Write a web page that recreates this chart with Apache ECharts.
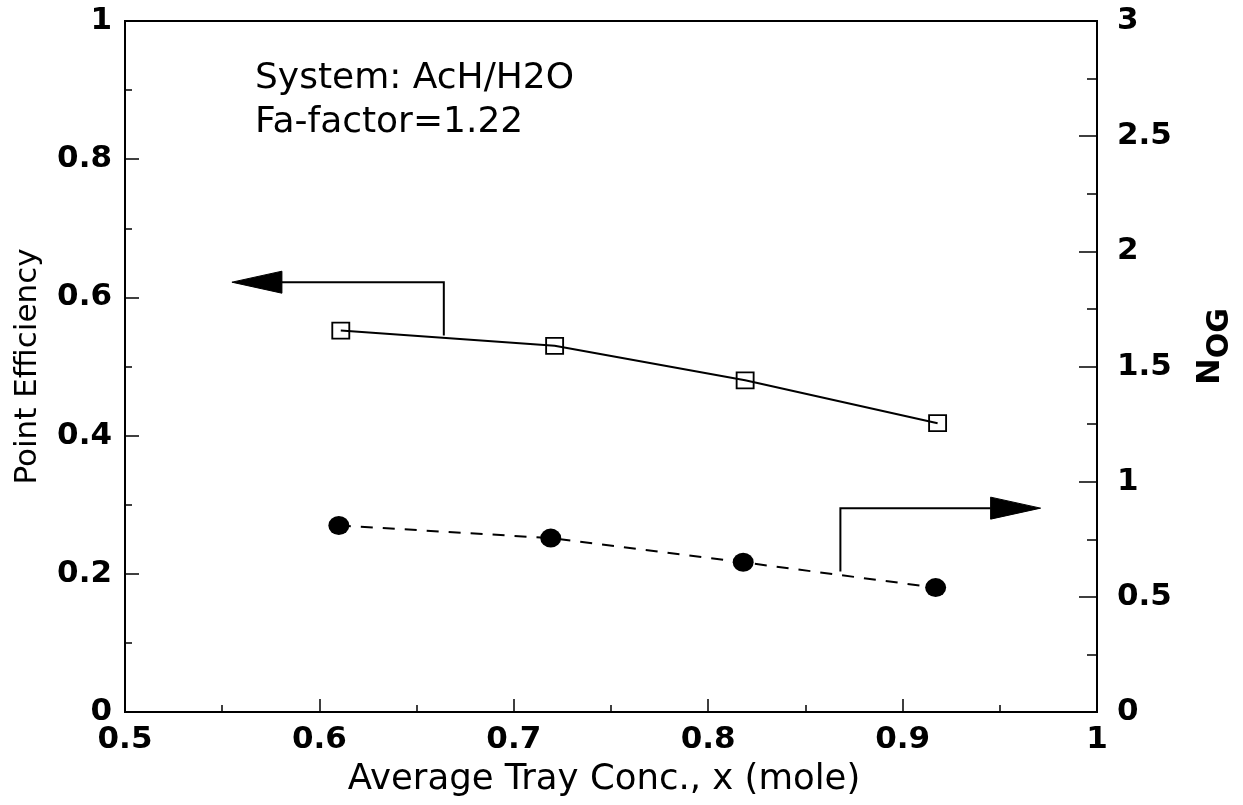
<!DOCTYPE html>
<html>
<head>
<meta charset="utf-8">
<script src="https://cdn.jsdelivr.net/npm/echarts@6/dist/echarts.min.js"></script>
<style>html,body{margin:0;padding:0;background:#fff}#c{width:1243px;height:805px}</style>
</head>
<body>
<div id="c"></div>
<script>
// ---- data ----
const xEff = [0.611, 0.721, 0.819, 0.918];
const effValues = [0.552, 0.530, 0.480, 0.418];
const xNog = [0.610, 0.719, 0.818, 0.917];
const nogValues = [0.81, 0.755, 0.65, 0.54];
const xTicks = { min: 0.5, max: 1, interval: 0.1 };
const yLeftTicks = { min: 0, max: 1, interval: 0.2 };
const yRightTicks = { min: 0, max: 3, interval: 0.5 };
const noteLines = ['System: AcH/H2O', 'Fa-factor=1.22'];
const xName = 'Average Tray Conc., x (mole)';
const yLeftName = 'Point Efficiency';
// annotation arrows (data coordinates): last point is the arrow tip
const arrowLeft = [[0.664, 0.545], [0.664, 0.622], [0.555, 0.622]];
const arrowRight = [[0.868, 0.61], [0.868, 0.885], [0.971, 0.885]];

const chart = echarts.init(document.getElementById('c'));
const FONT = 'DejaVu Sans';

function arrowSeries(points, yIdx) {
  return {
    type: 'custom',
    yAxisIndex: yIdx,
    silent: true,
    clip: false,
    z: 5,
    data: [points[0]],
    renderItem: function (params, api) {
      const pts = points.map(p => api.coord(p));
      const n = pts.length;
      const tip = pts[n - 1], prev = pts[n - 2];
      let dx = tip[0] - prev[0], dy = tip[1] - prev[1];
      const len = Math.sqrt(dx * dx + dy * dy) || 1;
      dx /= len; dy /= len;
      const headLen = 50, headHalf = 11;
      const base = [tip[0] - dx * headLen, tip[1] - dy * headLen];
      const px = -dy, py = dx;
      const linePts = pts.slice(0, n - 1).concat([base]);
      return {
        type: 'group',
        children: [
          { type: 'polyline', shape: { points: linePts }, style: { stroke: '#000', lineWidth: 2, fill: null } },
          { type: 'polygon', shape: { points: [tip, [base[0] + px * headHalf, base[1] + py * headHalf], [base[0] - px * headHalf, base[1] - py * headHalf]] }, style: { fill: '#000', stroke: '#000' } }
        ]
      };
    }
  };
}

const axisLineStyle = { color: '#000', width: 2 };
const tickLabel = { color: '#000', fontFamily: FONT, fontWeight: 'bold', fontSize: 31 };

const option = {
  backgroundColor: '#fff',
  animation: false,
  grid: { left: 125, right: 140, top: 21, bottom: 93, show: true, borderColor: '#000', borderWidth: 2, backgroundColor: 'transparent' },
  title: {
    text: noteLines.join('\n'),
    left: 250, top: 52,
    textStyle: { fontFamily: FONT, fontWeight: 'normal', fontSize: 36, color: '#000', lineHeight: 44 }
  },
  xAxis: {
    type: 'value', min: xTicks.min, max: xTicks.max, interval: xTicks.interval,
    name: xName, nameLocation: 'middle', nameGap: 50,
    nameTextStyle: { color: '#000', fontFamily: FONT, fontSize: 35.5, padding: [0, 14, 0, 0] },
    axisLine: { show: true, lineStyle: axisLineStyle },
    axisTick: { show: true, inside: true, length: 13, lineStyle: { color: '#000', width: 1.5 } },
    minorTick: { show: true, splitNumber: 2, length: 7, lineStyle: { color: '#000', width: 1.5 } },
    splitLine: { show: false },
    axisLabel: Object.assign({ margin: 12 }, tickLabel)
  },
  yAxis: [
    {
      type: 'value', min: yLeftTicks.min, max: yLeftTicks.max, interval: yLeftTicks.interval,
      name: yLeftName, nameLocation: 'middle', nameGap: 82, nameRotate: 90,
      nameTextStyle: { color: '#000', fontFamily: FONT, fontSize: 31 },
      axisLine: { show: true, lineStyle: axisLineStyle },
      axisTick: { show: true, inside: true, length: 14, lineStyle: { color: '#000', width: 1.5 } },
      minorTick: { show: true, splitNumber: 2, length: 7, lineStyle: { color: '#000', width: 1.5 } },
      splitLine: { show: false },
      axisLabel: Object.assign({ margin: 13 }, tickLabel)
    },
    {
      type: 'value', position: 'right', min: yRightTicks.min, max: yRightTicks.max, interval: yRightTicks.interval,
      name: '{n|N}{s|OG}', nameLocation: 'middle', nameGap: 98, nameRotate: 90,
      nameTextStyle: {
        color: '#000', fontFamily: FONT, fontWeight: 'bold', padding: [0, 0, 0, 40],
        rich: {
          n: { fontFamily: FONT, fontWeight: 'bold', fontSize: 32, color: '#000', lineHeight: 40, verticalAlign: 'top' },
          s: { fontFamily: FONT, fontWeight: 'bold', fontSize: 30, color: '#000', lineHeight: 40, verticalAlign: 'bottom' }
        }
      },
      axisLine: { show: true, lineStyle: axisLineStyle },
      axisTick: { show: true, inside: true, length: 18, lineStyle: { color: '#000', width: 1.5 } },
      minorTick: { show: true, splitNumber: 2, length: 10, lineStyle: { color: '#000', width: 1.5 } },
      splitLine: { show: false },
      axisLabel: Object.assign({ margin: 20 }, tickLabel)
    }
  ],
  series: [
    {
      type: 'line', yAxisIndex: 0,
      data: xEff.map((x, i) => [x, effValues[i]]),
      symbol: 'rect', symbolSize: [17, 16],
      lineStyle: { color: '#000', width: 2 },
      itemStyle: { color: 'rgba(255,255,255,0)', borderColor: '#000', borderWidth: 1.8 },
      z: 3
    },
    {
      type: 'line', yAxisIndex: 1,
      data: xNog.map((x, i) => [x, nogValues[i]]),
      symbol: 'circle', symbolSize: [21, 19],
      lineStyle: { color: '#000', width: 2, type: [12, 10] },
      itemStyle: { color: '#000', borderColor: '#000', borderWidth: 0 },
      z: 3
    },
    arrowSeries(arrowLeft, 0),
    arrowSeries(arrowRight, 1)
  ]
};
chart.setOption(option);
</script>
</body>
</html>
